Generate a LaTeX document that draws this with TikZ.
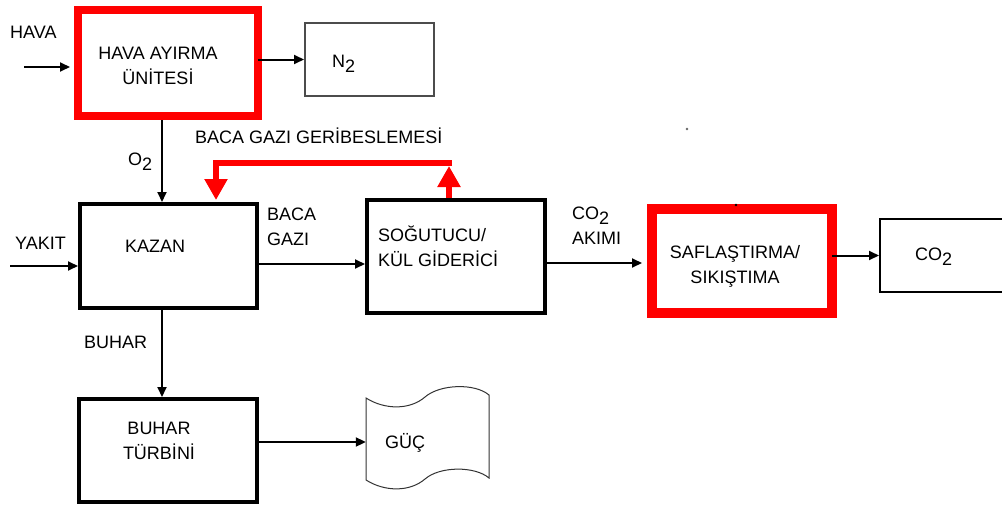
\documentclass[tikz,border=0pt]{standalone}
\usepackage{fontspec}
\setmainfont{Liberation Sans}
\usetikzlibrary{arrows.meta,calc}
\newcommand{\lowsub}[1]{\raisebox{-5pt}{#1}}
\begin{document}
\begin{tikzpicture}[x=1pt,y=-1pt,
  txt/.style={font=\fontsize{18}{25}\selectfont, inner sep=0pt},
  box/.style={draw=black, line width=4pt, inner sep=0pt},
  redbox/.style={draw=red, line width=#1, inner sep=0pt},
  thinbox/.style={draw=#1, line width=2pt, inner sep=0pt},
  arr/.style={line width=2pt, -{Triangle[length=10pt,width=9pt]}},
  redfb/.style={draw=red, line width=6pt, -{Triangle[length=21pt,width=22pt]}}]
\useasboundingbox (0,0) rectangle (1002,506);
\clip (0,0) rectangle (1002,506);
\fill[white] (0,0) rectangle (1002,506);

% boxes
\node[redbox=8pt, minimum width=180pt, minimum height=106pt] (hava) at (168,63) {};
\node[thinbox=black!70, minimum width=129pt, minimum height=73pt] (n2) at (369.5,59.5) {};
\node[box, minimum width=177pt, minimum height=104pt] (kazan) at (168.5,256) {};
\node[box, minimum width=178pt, minimum height=113pt] (sog) at (456,256.5) {};
\node[redbox=10pt, minimum width=180pt, minimum height=104pt] (saf) at (742,261) {};
\node[thinbox=black, minimum width=130pt, minimum height=73pt] (co2) at (945,255.5) {};
\node[box, minimum width=178pt, minimum height=103pt] (buhar) at (168,450.5) {};
\node[minimum width=123pt, minimum height=82pt, inner sep=0pt] (guc) at (427.5,442) {};
\draw[line width=1pt, black!80]
  (366,398) .. controls (385,410) and (410,410) .. (425,397)
  .. controls (440,384) and (475,383) .. (489,395)
  -- (489,478)
  .. controls (475,466) and (440,466) .. (425,479)
  .. controls (410,492) and (385,492) .. (366,480) -- cycle;

% texts
\node[txt, align=center] (havat) at (158,66) {HAVA AYIRMA\\ÜNİTESİ};
\node[txt, anchor=base west] (n2t) at (332,67) {N\lowsub{2}};
\node[txt, anchor=base west] (havalbl) at (10,38.5) {HAVA};
\node[txt, anchor=base west] (yakit) at (15,249.5) {YAKIT};
\node[txt, anchor=base west] (kazant) at (125,252.5) {KAZAN};
\node[txt, anchor=base west] (o2) at (128,165) {O\lowsub{2}};
\node[txt, anchor=base west] (fblbl) at (195,143.5) {BACA GAZI GERİBESLEMESİ};
\node[txt, align=left, anchor=west] (bacagazi) at (267,227) {BACA\\GAZI};
\node[txt, align=left, anchor=west] (sogt) at (378,246) {SOĞUTUCU/\\KÜL GİDERİCİ};
\node[txt, align=left, anchor=west] (co2ak) at (572,226) {CO\lowsub{2}\\AKIMI};
\node[txt, align=center] (saft) at (735,266) {SAFLAŞTIRMA/\\SIKIŞTIMA};
\node[txt, anchor=base west] (co2t) at (915,260) {CO\lowsub{2}};
\node[txt, anchor=base west] (buharlbl) at (84,348.5) {BUHAR};
\node[txt, align=center] (buhart) at (159,441) {BUHAR\\TÜRBİNİ};
\node[txt, anchor=base west] (guct) at (385,448) {GÜÇ};

% connectors
\coordinate (havain) at (24,67);
\coordinate (yakitin) at (10,266);
\coordinate (vx) at (162,0);
\draw[arr, shorten >=4pt] (havain) -- (havain -| hava.west);
\draw[arr] ([xshift=-4pt]hava.east |- n2.west) -- (n2.west);
\draw[arr] (hava.south -| vx) -- (kazan.north -| vx);
\draw[arr] (yakitin) -- (yakitin -| kazan.west);
\coordinate (bg) at (0,264);
\draw[arr] (kazan.east |- bg) -- (sog.west |- bg);
\coordinate (ca) at (0,263);
\draw[arr, shorten >=5pt] (sog.east |- ca) -- (saf.west |- ca);
\draw[arr, shorten >=0pt] ([xshift=-5pt]saf.east |- co2.west) -- (co2.west);
\draw[arr] (kazan.south -| vx) -- (buhar.north -| vx);
\draw[arr] (buhar.east |- guc.west) -- (guc.west);

% red feedback loop
\coordinate (fbL) at (216,163);
\coordinate (fbR) at (449,163);
\draw[redfb] (sog.north -| fbR) -- ($(fbR)+(0,3)$);
\draw[redfb, shorten >=2pt] ($(fbR)+(3,0)$) -- (fbL) -- (kazan.north -| fbL);

% small dots
\fill[black!60] (687,129) circle (1.3pt);
\fill[black] (736,205) circle (1.3pt);
\end{tikzpicture}
\end{document}
